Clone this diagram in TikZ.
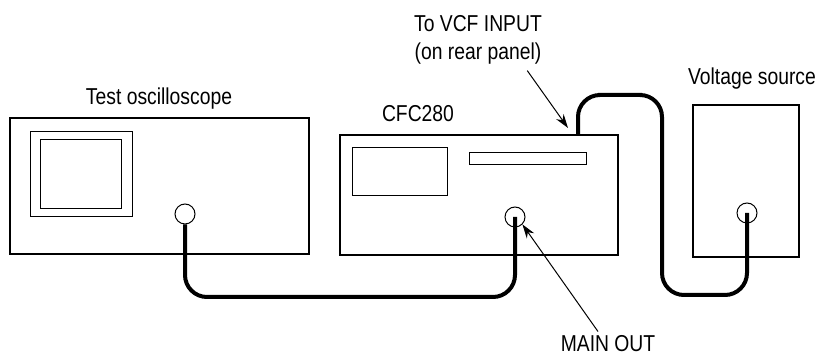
\documentclass[tikz,border=0pt]{standalone}
\usepackage{fontspec}
\setmainfont[FakeStretch=0.84]{Liberation Sans}
\usetikzlibrary{arrows.meta,positioning,fit,calc}

\tikzset{
  box/.style={draw,line width=1pt,inner sep=0pt},
  panel/.style={draw,line width=0.5pt,inner sep=0pt},
  jack/.style={draw,circle,line width=0.5pt,minimum size=10pt,inner sep=0pt},
  cable/.style={line width=2pt,rounded corners=11pt},
  pointer/.style={-{Stealth[length=7pt,width=4.5pt]},line width=0.5pt},
  lbl/.style={font=\fontsize{11.5}{14}\selectfont,inner sep=0pt,align=center}
}

\begin{document}
\begin{tikzpicture}[x=0.5pt,y=-0.5pt]
\useasboundingbox (0,0) rectangle (819,356);
% test oscilloscope
\node[box,fit={(10,118) (309,254)}] (scope) {};
\node[panel,fit={(30,132) (132,217)}] (bezel) {};
\node[panel,fit={(40,140) (121,209)}] (screen) {};
\node[jack] (scopein) at (185,214) {};
\node[lbl,anchor=base] (scopelbl) at (159,105) {Test oscilloscope};
% CFC280
\node[box,fit={(340,135) (618,255)}] (cfc) {};
\node[panel,fit={(352,148) (447,196)}] (display) {};
\node[panel,fit={(469,153) (586,165)}] (slot) {};
\node[jack] (mainout) at (515,217) {};
\node[lbl,anchor=base] (cfclbl) at (418,122) {CFC280};
% voltage source
\node[box,fit={(693,105) (799,257)}] (vsrc) {};
\node[jack] (vsout) at (747,213) {};
\node[lbl,anchor=base] (vslbl) at (752,85) {Voltage source};
% cables
\coordinate (lowA) at (350,297);
\coordinate (rearin) at (578,135);
\coordinate (topB) at (620,95);
\coordinate (lowB) at (662,295);
\draw[cable] (scopein.south) |- (lowA) -| (mainout.center);
\draw[cable] (rearin) |- (topB) -| (lowB) -| (vsout.center);
% callouts
\node[lbl,anchor=north] (vcflbl) at (478,15) {To VCF INPUT\\(on rear panel)};
\node[lbl,anchor=base] (mainlbl) at (608,352) {MAIN OUT};
\draw[pointer] ($(vcflbl.south east)+(-15,6)$) -- ($(rearin)+(-10,-7)$);
\draw[pointer] ($(mainlbl.north)+(-10,-4)$) -- (mainout.south east);
\end{tikzpicture}
\end{document}
